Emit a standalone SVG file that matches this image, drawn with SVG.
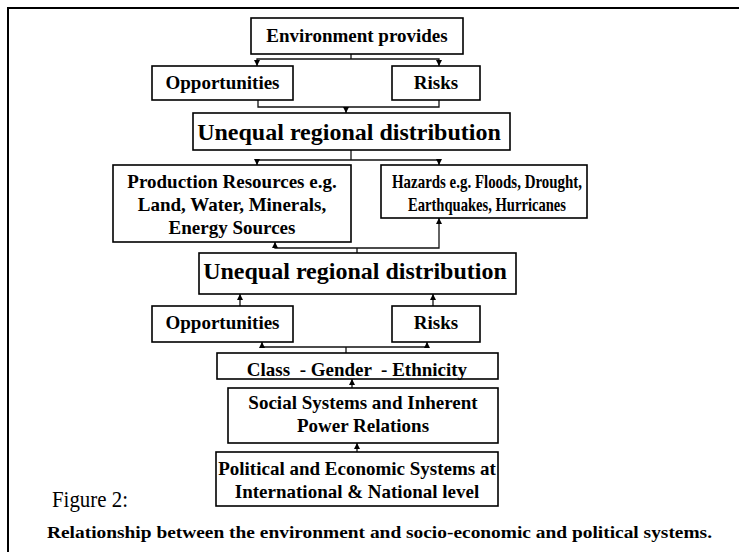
<svg xmlns="http://www.w3.org/2000/svg" width="739" height="552" viewBox="0 0 739 552">
<style>
.box{fill:#fff;stroke:#000;stroke-width:1.6}
.t{font-family:"Liberation Serif","Times New Roman",serif;font-weight:bold;font-size:19px;fill:#000;text-anchor:middle}
.big{font-size:24px}
.c{fill:none;stroke:#111;stroke-width:1.3}
.a{marker-end:url(#ah)}
</style>
<defs>
<marker id="ah" markerUnits="userSpaceOnUse" markerWidth="7" markerHeight="7" refX="6" refY="3" orient="auto">
<path d="M0,0 L6,3 L0,6 z" fill="#000"/>
</marker>
</defs>
<rect width="739" height="552" fill="#fff"/>
<path d="M8,552 V8 H739" fill="none" stroke="#000" stroke-width="2"/>

<g id="connectors">
<path class="c" d="M351,54 V59"/>
<path class="c a" d="M351,59 H257 V66"/>
<path class="c a" d="M351,59 H439 V66"/>
<path class="c" d="M258,100 V107 H439 V100"/>
<path class="c a" d="M346,107 V113"/>
<path class="c" d="M351,150 V160"/>
<path class="c a" d="M351,160 H257 V165"/>
<path class="c a" d="M351,160 H439 V165"/>
<path class="c" d="M357,253 V248"/>
<path class="c a" d="M357,248 H275 V242"/>
<path class="c a" d="M357,248 H439 V218"/>
<path class="c a" d="M240,306 V294"/>
<path class="c a" d="M433,306 V294"/>
<path class="c" d="M346,353 V347"/>
<path class="c a" d="M346,347 H262 V342"/>
<path class="c a" d="M346,347 H427 V342"/>
<path class="c a" d="M352,388 V379"/>
<path class="c a" d="M357,452 V443"/>
</g>

<g id="env"><rect class="box" x="251" y="18" width="212" height="36"/><text class="t" x="357" y="42">Environment provides</text></g>
<g id="opp1"><rect class="box" x="152" y="66" width="141" height="34"/><text class="t" x="222.5" y="89">Opportunities</text></g>
<g id="risk1"><rect class="box" x="392" y="66" width="88" height="34"/><text class="t" x="436" y="89">Risks</text></g>
<g id="uneq1"><rect class="box" x="193" y="113" width="317" height="37"/><text class="t big" x="349" y="140">Unequal regional distribution</text></g>
<g id="prod"><rect class="box" x="113" y="165" width="238" height="77"/>
<text class="t" x="232" y="188">Production Resources e.g.</text>
<text class="t" x="232" y="211">Land, Water, Minerals,</text>
<text class="t" x="232" y="234">Energy Sources</text></g>
<g id="haz"><rect class="box" x="381" y="165" width="206" height="53"/>
<text class="t" x="487" y="188" textLength="190" lengthAdjust="spacingAndGlyphs">Hazards e.g. Floods, Drought,</text>
<text class="t" x="487" y="211" textLength="158" lengthAdjust="spacingAndGlyphs">Earthquakes, Hurricanes</text></g>
<g id="uneq2"><rect class="box" x="199" y="253" width="317" height="41"/><text class="t big" x="355" y="279">Unequal regional distribution</text></g>
<g id="opp2"><rect class="box" x="152" y="306" width="141" height="36"/><text class="t" x="222.5" y="329">Opportunities</text></g>
<g id="risk2"><rect class="box" x="392" y="306" width="88" height="36"/><text class="t" x="436" y="329">Risks</text></g>
<g id="class"><rect class="box" x="217" y="353" width="281" height="26"/><text class="t" x="357" y="376" xml:space="preserve">Class  - Gender  - Ethnicity</text></g>
<g id="social"><rect class="box" x="228" y="388" width="270" height="55"/>
<text class="t" x="363" y="409">Social Systems and Inherent</text>
<text class="t" x="363" y="432">Power Relations</text></g>
<g id="political"><rect class="box" x="216" y="452" width="282" height="54"/>
<text class="t" x="357" y="475">Political and Economic Systems at</text>
<text class="t" x="357" y="498">International &amp; National level</text></g>

<text x="52" y="507" font-family="Liberation Serif, Times New Roman, serif" font-size="23" fill="#000" textLength="76" lengthAdjust="spacingAndGlyphs">Figure 2:</text>
<text x="47" y="538" font-family="Liberation Serif, Times New Roman, serif" font-weight="bold" font-size="17" fill="#000" textLength="665" lengthAdjust="spacingAndGlyphs">Relationship between the environment and socio-economic and political systems.</text>
</svg>
